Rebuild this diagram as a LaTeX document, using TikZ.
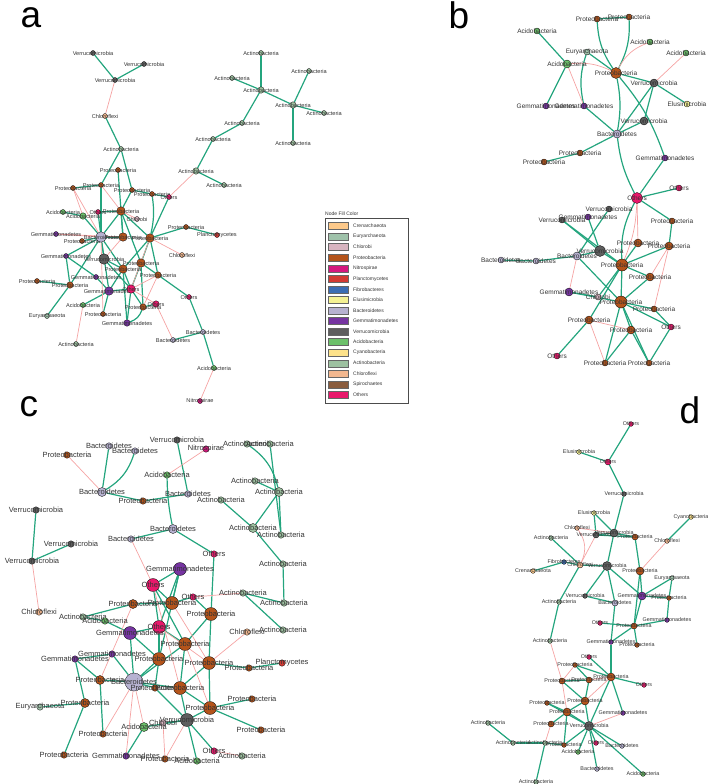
\documentclass[tikz,border=0pt]{standalone}
\usepackage{fontspec}
\setmainfont{Liberation Sans}
\usepackage{xcolor}
\usetikzlibrary{backgrounds}

\definecolor{cCren}{HTML}{FDC98A}
\definecolor{cEury}{HTML}{9FC2AA}
\definecolor{cChlb}{HTML}{D8B4C0}
\definecolor{cProt}{HTML}{B4541B}
\definecolor{cNitr}{HTML}{D5187E}
\definecolor{cPlan}{HTML}{D23A33}
\definecolor{cFibr}{HTML}{3B6DB4}
\definecolor{cElus}{HTML}{F4F194}
\definecolor{cBact}{HTML}{B7B2D1}
\definecolor{cGemm}{HTML}{7634A1}
\definecolor{cVerr}{HTML}{5E5E5E}
\definecolor{cAcid}{HTML}{6CC06A}
\definecolor{cCyan}{HTML}{FDE28A}
\definecolor{cActi}{HTML}{9DC1A0}
\definecolor{cChlf}{HTML}{F2B78F}
\definecolor{cSpir}{HTML}{8A5C3D}
\definecolor{cOth}{HTML}{E8186B}
\definecolor{eGreen}{HTML}{24A57E}
\definecolor{eRed}{HTML}{F5A3A3}

\begin{document}
\begin{tikzpicture}[
    x=1pt, y=-1pt,
    nd/.style={circle, draw=black, line width=0.3pt, inner sep=0pt, minimum size=5pt},
    med/.style={minimum size=7pt},
    big/.style={minimum size=9pt},
    huge/.style={minimum size=11pt},
    cren/.style={nd, fill=cCren, label=center:Crenarchaeota},
    eury/.style={nd, fill=cEury, label=center:Euryarchaeota},
    chlb/.style={nd, fill=cChlb, label=center:Chlorobi},
    prot/.style={nd, fill=cProt, label=center:Proteobacteria},
    nitr/.style={nd, fill=cNitr, label=center:Nitrospirae},
    plan/.style={nd, fill=cPlan, label=center:Planctomycetes},
    fibr/.style={nd, fill=cFibr, label=center:Fibrobacteres},
    elus/.style={nd, fill=cElus, label=center:Elusimicrobia},
    bact/.style={nd, fill=cBact, label=center:Bacteroidetes},
    gemm/.style={nd, fill=cGemm, label=center:Gemmatimonadetes},
    verr/.style={nd, fill=cVerr, label=center:Verrucomicrobia},
    acid/.style={nd, fill=cAcid, label=center:Acidobacteria},
    cyan/.style={nd, fill=cCyan, label=center:Cyanobacteria},
    acti/.style={nd, fill=cActi, label=center:Actinobacteria},
    chlf/.style={nd, fill=cChlf, label=center:Chloroflexi},
    oth/.style={nd, fill=cOth, label=center:Others},
    ge/.style={draw=eGreen, line width=1.2pt},
    re/.style={draw=eRed, line width=0.7pt},
    panellab/.style={font=\fontsize{37}{40}\selectfont, inner sep=0pt},
    swatch/.style={rectangle, draw=black!60, line width=0.3pt, minimum width=20pt, minimum height=7pt, inner sep=0pt},
    legtext/.style={anchor=west, font=\fontsize{5}{6}\selectfont, inner sep=0pt, text=black!80},
]
\useasboundingbox (0,0) rectangle (708,784);

% ===== panel letters =====
\node[panellab] (labA) at (31,18) {a};
\node[panellab] (labB) at (459,15) {b};
\node[panellab] (labC) at (29,407) {c};
\node[panellab] (labD) at (690,410) {d};

% ===== PANEL A =====
\begin{scope}[every label/.style={font=\fontsize{5.6}{6}\selectfont, text=black!80, inner sep=0pt},
    nd/.append style={minimum size=5pt}, med/.style={minimum size=6.5pt},
    big/.style={minimum size=8.5pt}, huge/.style={minimum size=10.5pt}]
\node[verr] (aV1) at (93,53) {};
\node[verr] (aV2) at (144,64) {};
\node[verr] (aV3) at (115,80) {};
\node[chlf] (aCf1) at (105,116) {};
\node[acti] (aAc1) at (121,149) {};
\node[prot] (aP1) at (118,170) {};
\node[prot] (aP2) at (101,185) {};
\node[prot] (aP3) at (73,188) {};
\node[prot] (aP4) at (132,190) {};
\node[prot] (aP5) at (152,194) {};
\node[oth] (aO1) at (169,197) {};
\node[acti] (aAc2) at (261,53) {};
\node[acti] (aAc3) at (232,78) {};
\node[acti, med] (aAc4) at (261,90) {};
\node[acti] (aAc5) at (309,71) {};
\node[acti, med] (aAc6) at (293,105) {};
\node[acti] (aAc7) at (324,113) {};
\node[acti] (aAc8) at (293,143) {};
\node[acti] (aAc9) at (242,123) {};
\node[acti] (aAc10) at (213,139) {};
\node[acti, med] (aAc11) at (196,171) {};
\node[acti] (aAc12) at (224,185) {};
\node[acid] (aAd1) at (63,212) {};
\node[acid, med] (aAd2) at (83,216) {};
\node[oth] (aO2) at (98,212) {};
\node[prot, big] (aP6) at (121,211) {};
\node[chlb] (aCb1) at (137,219) {};
\node[gemm] (aG1) at (56,234) {};
\node[prot] (aP7) at (82,241) {};
\node[bact, huge] (aB1) at (101,237) {};
\node[prot, big] (aP8) at (123,237) {};
\node[prot, big] (aP9) at (150,238) {};
\node[prot] (aP10) at (186,227) {};
\node[plan] (aPl1) at (217,235) {};
\node[chlf] (aCf2) at (182,255) {};
\node[gemm] (aG2) at (66,256) {};
\node[verr, huge] (aV4) at (104,259) {};
\node[prot, big] (aP11) at (141,263) {};
\node[prot, big] (aP12) at (123,269) {};
\node[prot, med] (aP13) at (158,275) {};
\node[gemm] (aG3) at (96,277) {};
\node[prot] (aP14) at (37,281) {};
\node[prot, med] (aP15) at (70,285) {};
\node[gemm, big] (aG4) at (109,291) {};
\node[oth, big] (aO3) at (131,289) {};
\node[oth] (aO4) at (189,297) {};
\node[oth, med] (aO5) at (156,304) {};
\node[prot, med] (aP16) at (143,307) {};
\node[acid] (aAd3) at (83,305) {};
\node[eury] (aEu1) at (47,316) {};
\node[prot] (aP17) at (103,314) {};
\node[gemm, med] (aG5) at (127,323) {};
\node[bact] (aB2) at (203,332) {};
\node[bact] (aB3) at (173,340) {};
\node[acti] (aAc13) at (76,344) {};
\node[acid] (aAd4) at (214,368) {};
\node[nitr] (aNi1) at (200,401) {};
\end{scope}

\begin{scope}[on background layer]
\foreach \s/\t in {aV1/aV3, aV2/aV3, aCf1/aAc1, aAc1/aP2, aAc1/aP4, aAc2/aAc4, aAc3/aAc4,
    aAc4/aAc6, aAc5/aAc6, aAc6/aAc7, aAc6/aAc8, aAc4/aAc9, aAc9/aAc10, aAc10/aAc11,
    aAc11/aAc12, aP3/aP2, aP4/aP5, aP5/aO1, aP1/aP8, aP2/aB1, aP4/aP6, aB1/aAd2,
    aB1/aO2, aB1/aP6, aB1/aP7, aB1/aG2, aB1/aV4, aB1/aP8, aB1/aG4, aB1/aP12, aB1/aP15,
    aO2/aP6, aP6/aP8, aP6/aP11, aP6/aP9, aP9/aP10, aP10/aPl1, aP9/aP13, aP9/aP11,
    aP9/aP12, aP13/aO4, aP13/aP11, aO4/aB2, aB2/aB3, aB2/aAd4, aO5/aP16, aG5/aO3,
    aG5/aP12, aG2/aP15, aG2/aG3, aG3/aG4, aP14/aP15, aP15/aEu1, aAd3/aG4, aP17/aG4,
    aG4/aO3, aG4/aP12, aO3/aP12, aO3/aP11, aO3/aP16, aV4/aP12, aV4/aO3, aP16/aP11,
    aAd1/aAd2, aO1/aP9}
    \draw[ge] (\s) -- (\t);
\draw[ge] (aP5) to[bend left=10] (aP9);
\draw[ge] (aG5) to[bend right=25] (aP16);
\foreach \s/\t in {aV3/aCf1, aAc11/aO1, aP3/aB1, aP3/aAd2, aB1/aG1, aP6/aCb1, aP9/aCf2,
    aP9/aO3, aP13/aO3, aP13/aP16, aAd4/aNi1, aB3/aO5, aO5/aO3, aAd3/aAc13, aP17/aB1,
    aV4/aP8, aG1/aP8, aP2/aP6}
    \draw[re] (\s) -- (\t);
\end{scope}

% ===== PANEL B =====
\begin{scope}[every label/.style={font=\fontsize{6.5}{7}\selectfont, text=black!80, inner sep=0pt},
    nd/.append style={minimum size=6pt}, med/.style={minimum size=8pt},
    big/.style={minimum size=11pt}, huge/.style={minimum size=12pt}]
\node[prot] (bP1) at (597,19) {};
\node[prot] (bP2) at (629,17) {};
\node[acid] (bAd1) at (537,31) {};
\node[acid] (bAd2) at (650,42) {};
\node[acid] (bAd3) at (686,53) {};
\node[eury] (bEu1) at (587,52) {};
\node[acid, med] (bAd4) at (567,64) {};
\node[prot, big] (bP3) at (616,73) {};
\node[verr, med] (bV1) at (654,83) {};
\node[elus] (bEl1) at (687,104) {};
\node[gemm] (bG1) at (546,106) {};
\node[gemm] (bG2) at (584,106) {};
\node[verr, med] (bV2) at (644,121) {};
\node[bact, med] (bB1) at (617,134) {};
\node[prot] (bP4) at (580,153) {};
\node[prot] (bP5) at (544,162) {};
\node[gemm] (bG3) at (665,158) {};
\node[oth] (bO1) at (679,188) {};
\node[oth, big] (bO2) at (637,198) {};
\node[verr] (bV3) at (609,209) {};
\node[gemm] (bG4) at (588,217) {};
\node[verr] (bV4) at (562,220) {};
\node[prot] (bP6) at (672,221) {};
\node[prot, med] (bP7) at (638,243) {};
\node[prot, med] (bP8) at (669,246) {};
\node[verr, big] (bV5) at (600,251) {};
\node[bact, med] (bB2) at (577,256) {};
\node[bact] (bB3) at (501,260) {};
\node[bact] (bB4) at (536,261) {};
\node[prot, huge] (bP9) at (622,265) {};
\node[prot, med] (bP10) at (650,277) {};
\node[gemm, med] (bG5) at (569,292) {};
\node[chlb] (bCb1) at (598,297) {};
\node[prot, huge] (bP11) at (621,302) {};
\node[prot] (bP12) at (654,309) {};
\node[prot, med] (bP13) at (589,320) {};
\node[oth] (bO3) at (671,327) {};
\node[prot, med] (bP14) at (631,330) {};
\node[oth] (bO4) at (557,356) {};
\node[prot] (bP15) at (605,363) {};
\node[prot] (bP16) at (649,363) {};
\end{scope}

\begin{scope}[on background layer]
\foreach \s/\t in {bP1/bP2, bAd1/bAd4, bEu1/bP3, bAd4/bG1, bP3/bV1, bV1/bEl1,
    bV1/bV2, bV1/bB1, bV2/bB1, bG2/bB1, bB1/bP4, bP4/bP5, bG3/bO2, bO1/bO2,
    bO2/bP6, bV3/bB2, bG4/bV5, bV4/bP9, bV4/bV5, bP6/bP8, bP8/bP9, bP7/bP9, bV5/bP9,
    bV5/bB2, bB2/bB4, bB4/bB3, bB2/bP11, bP9/bP10, bP10/bP11, bG5/bCb1, bG5/bP11,
    bP9/bP11, bP11/bP12, bP11/bP14, bP11/bO3, bP11/bP15, bP11/bP16, bP13/bO4,
    bP12/bO3, bO3/bP16, bP14/bP15, bP14/bP16, bP9/bCb1, bP9/bP13}
    \draw[ge] (\s) -- (\t);
\draw[ge] (bP1) to[bend right=15] (bP3);
\draw[ge] (bP2) to[bend left=15] (bP3);
\draw[ge] (bEu1) to[bend right=15] (bG2);
\draw[ge] (bP3) to[bend left=10] (bB1);
\draw[ge] (bP3) to[bend left=10] (bG3);
\draw[ge] (bB1) to[bend right=10] (bO2);
\draw[ge] (bO2) to[bend right=15] (bP9);
\foreach \s/\t in {bAd3/bV1, bAd4/bG2, bO2/bP7, bB2/bG5, bP8/bP10, bP8/bP12,
    bP13/bP15, bP13/bP14}
    \draw[re] (\s) -- (\t);
\draw[re] (bAd2) to[bend right=20] (bP3);
\draw[re] (bAd4) to[bend left=15] (bP3);
\draw[re] (bO2) to[bend left=10] (bP9);
\end{scope}

% ===== PANEL C =====
\begin{scope}[every label/.style={font=\fontsize{7.5}{8}\selectfont, text=black!80, inner sep=0pt},
    nd/.append style={minimum size=6.5pt}, med/.style={minimum size=9pt},
    big/.style={minimum size=13pt}, huge/.style={minimum size=18pt}]
\node[verr] (cV1) at (177,440) {};
\node[bact] (cB1) at (109,446) {};
\node[bact] (cB2) at (135,451) {};
\node[prot] (cP1) at (67,455) {};
\node[nitr] (cN1) at (206,449) {};
\node[acti] (cAc1) at (247,444) {};
\node[acti] (cAc2) at (270,444) {};
\node[acid] (cAd1) at (167,475) {};
\node[acti] (cAc3) at (255,481) {};
\node[acti, med] (cAc4) at (279,492) {};
\node[bact, med] (cB3) at (102,492) {};
\node[bact] (cB4) at (188,494) {};
\node[prot] (cP2) at (143,501) {};
\node[acti] (cAc5) at (221,500) {};
\node[verr] (cV2) at (36,510) {};
\node[bact, med] (cB5) at (173,529) {};
\node[acti, med] (cAc6) at (253,528) {};
\node[acti] (cAc7) at (281,535) {};
\node[bact] (cB6) at (131,539) {};
\node[verr] (cV3) at (71,544) {};
\node[verr] (cV4) at (32,561) {};
\node[oth] (cO1) at (214,554) {};
\node[acti] (cAc8) at (283,564) {};
\node[gemm, big] (cG1) at (180,569) {};
\node[oth, big] (cO2) at (153,585) {};
\node[oth] (cO3) at (193,597) {};
\node[acti] (cAc9) at (243,593) {};
\node[acti] (cAc10) at (284,603) {};
\node[prot, med] (cP3) at (133,604) {};
\node[prot, big] (cP4) at (172,603) {};
\node[prot, big] (cP5) at (211,614) {};
\node[chlf] (cCf1) at (39,612) {};
\node[acti] (cAc11) at (83,617) {};
\node[acid] (cAd2) at (105,621) {};
\node[oth, big] (cO4) at (159,627) {};
\node[gemm, big] (cG2) at (130,633) {};
\node[chlf] (cCf2) at (247,632) {};
\node[acti] (cAc12) at (283,630) {};
\node[prot, big] (cP6) at (185,644) {};
\node[gemm] (cG3) at (112,654) {};
\node[gemm] (cG4) at (75,659) {};
\node[prot, big] (cP7) at (159,659) {};
\node[prot, big] (cP8) at (209,663) {};
\node[plan] (cPl1) at (282,663) {};
\node[prot] (cP9) at (249,668) {};
\node[prot, med] (cP10) at (100,680) {};
\node[bact, huge] (cB7) at (134,682) {};
\node[prot] (cP11) at (155,688) {};
\node[prot, big] (cP12) at (180,688) {};
\node[prot] (cP13) at (252,699) {};
\node[eury] (cEu1) at (40,707) {};
\node[prot, med] (cP14) at (85,703) {};
\node[prot, big] (cP15) at (210,708) {};
\node[verr, big] (cV5) at (187,720) {};
\node[chlb] (cCb1) at (163,723) {};
\node[acid, med] (cAd3) at (144,727) {};
\node[prot] (cP16) at (261,730) {};
\node[prot] (cP17) at (103,734) {};
\node[prot] (cP18) at (64,755) {};
\node[gemm] (cG5) at (126,756) {};
\node[prot] (cP19) at (165,759) {};
\node[acid] (cAd4) at (197,761) {};
\node[oth] (cO5) at (214,751) {};
\node[acti] (cAc13) at (242,756) {};
\end{scope}

\begin{scope}[on background layer]
\foreach \s/\t in {cB1/cB3, cB3/cP2, cP2/cB4, cV1/cB4, cB6/cB5, cB5/cO1,
    cO1/cP5, cAc2/cAc7, cAc3/cAc4, cAc4/cAc6, cAc4/cAc7, cAc5/cAc6, cAc6/cAc8,
    cAc8/cAc10, cAc9/cAc10, cAc9/cAc12, cV2/cV4, cV3/cV4, cAc11/cP3, cAc11/cAd2,
    cAd2/cG2, cG1/cO2, cG1/cP4, cG1/cP7, cG1/cO4, cO2/cP4, cO2/cP6, cO2/cO4, cP3/cP4,
    cP4/cO3, cO3/cP5, cP5/cP8, cP5/cP6, cO4/cG2, cO4/cP6, cO4/cP7, cG2/cP7, cG2/cB7,
    cP8/cP9, cP9/cPl1, cP8/cP12, cP8/cP15, cG3/cG4, cG4/cP14, cG4/cP10, cP14/cEu1,
    cP14/cP18, cP10/cP17, cP10/cB7, cG3/cB7, cB7/cP7, cB7/cP6, cB7/cP12, cB7/cP11,
    cP12/cP15, cP12/cV5, cP15/cP13, cP15/cP16, cP15/cV5, cV5/cAd3, cV5/cO5, cV5/cAd4,
    cV5/cCb1, cP7/cP11, cP6/cP12, cP11/cV5, cAd3/cG5}
    \draw[ge] (\s) -- (\t);
\draw[ge] (cB2) to[bend left=20] (cB3);
\draw[ge] (cAc1) to[bend left=20] (cAc4);
\draw[ge] (cAd1) to[bend right=5] (cB5);
\foreach \s/\t in {cP1/cB3, cAd1/cN1, cB6/cO2, cV4/cCf1, cO3/cAc9, cCf2/cP8,
    cO5/cAc13, cV5/cP19, cB7/cAd3, cB7/cP17, cO4/cP8, cP6/cP15, cP4/cP8, cB7/cG5,
    cCb1/cP19, cP3/cP10, cO2/cP12}
    \draw[re] (\s) -- (\t);
\end{scope}

% ===== PANEL D =====
\begin{scope}[every label/.style={font=\fontsize{5.4}{6}\selectfont, text=black!80, inner sep=0pt},
    nd/.append style={minimum size=4.7pt}, med/.style={minimum size=6pt},
    big/.style={minimum size=8pt}, huge/.style={minimum size=9pt}]
\node[oth] (dO1) at (631,424) {};
\node[elus] (dEl1) at (579,452) {};
\node[oth, med] (dO2) at (608,462) {};
\node[verr] (dV1) at (624,494) {};
\node[elus] (dEl2) at (594,513) {};
\node[cyan] (dCy1) at (691,517) {};
\node[chlf] (dCf1) at (577,528) {};
\node[verr, med] (dV2) at (596,535) {};
\node[verr, big] (dV3) at (614,533) {};
\node[prot, med] (dP1) at (635,537) {};
\node[acti] (dAc1) at (551,538) {};
\node[chlf] (dCf2) at (667,541) {};
\node[fibr] (dFb1) at (564,562) {};
\node[chlf, med] (dCf3) at (580,565) {};
\node[cren] (dCr1) at (533,571) {};
\node[verr, huge] (dV4) at (607,566) {};
\node[prot, big] (dP2) at (640,571) {};
\node[eury] (dEu1) at (672,578) {};
\node[gemm, big] (dG1) at (642,596) {};
\node[prot] (dP3) at (669,598) {};
\node[verr] (dV5) at (585,596) {};
\node[acti] (dAc2) at (559,602) {};
\node[bact, med] (dB1) at (615,603) {};
\node[gemm] (dG2) at (667,620) {};
\node[oth] (dO3) at (600,623) {};
\node[prot, med] (dP4) at (634,626) {};
\node[gemm] (dG3) at (611,642) {};
\node[prot] (dP5) at (637,645) {};
\node[acti] (dAc3) at (550,641) {};
\node[oth] (dO4) at (589,657) {};
\node[prot] (dP6) at (575,665) {};
\node[prot, big] (dP7) at (611,677) {};
\node[prot, med] (dP8) at (562,681) {};
\node[prot, med] (dP9) at (589,680) {};
\node[oth] (dO5) at (644,685) {};
\node[prot, big] (dP10) at (585,701) {};
\node[prot] (dP11) at (547,703) {};
\node[prot, big] (dP12) at (567,712) {};
\node[gemm] (dG4) at (623,713) {};
\node[acti] (dAc4) at (488,723) {};
\node[prot, med] (dP13) at (551,724) {};
\node[verr, huge] (dV6) at (589,726) {};
\node[oth] (dO6) at (596,743) {};
\node[bact] (dB2) at (622,746) {};
\node[acti] (dAc5) at (513,743) {};
\node[acti] (dAc6) at (545,743) {};
\node[prot] (dP14) at (564,745) {};
\node[acid] (dAd1) at (578,752) {};
\node[bact] (dB3) at (597,769) {};
\node[acid] (dAd2) at (643,774) {};
\node[acti] (dAc7) at (536,782) {};
\end{scope}

\begin{scope}[on background layer]
\foreach \s/\t in {dO1/dO2, dEl1/dO2, dO2/dV1, dV1/dV3, dEl2/dV2, dEl2/dV3, dCy1/dCf2,
    dAc1/dCf3, dV2/dV3, dV3/dP1, dV2/dP1, dV3/dV4, dP1/dP2, dCr1/dFb1, dFb1/dCf3,
    dCf3/dV4, dCf3/dAc2, dAc2/dAc3, dV4/dV5, dV4/dG1, dV4/dB1, dP2/dG1, dP2/dP4,
    dEu1/dP3, dEu1/dG1, dG1/dP3, dP3/dG2, dV5/dB1, dG1/dP4, dG2/dP4, dO3/dP4,
    dB1/dG3, dG3/dP4, dG3/dP7, dP4/dP5, dO4/dP7, dP6/dP7, dP7/dO5, dP7/dG4, dP8/dP9,
    dP8/dP10, dP10/dV6, dP10/dP12, dP11/dP12, dP11/dV6, dP12/dP13, dP12/dV6,
    dP12/dP14, dV6/dO6, dV6/dB2, dV6/dB3, dV6/dAd2, dV6/dAd1, dV6/dP14, dAc4/dAc5,
    dAc5/dAc6, dAc6/dAc7, dAc6/dP14, dP9/dP10, dP6/dP9, dV6/dP7}
    \draw[ge] (\s) -- (\t);
\foreach \s/\t in {dCf2/dP2, dCf1/dV3, dCf3/dV2, dAc3/dP8, dP6/dP8, dP7/dP9,
    dP7/dP10, dG4/dV6, dP13/dAc6, dP8/dP12}
    \draw[re] (\s) -- (\t);
\draw[re] (dCf1) to[bend left=30] (dCf3);
\end{scope}

% ===== LEGEND =====
\node[draw=black!70, line width=0.4pt, minimum width=83pt, minimum height=185pt,
    anchor=north west, inner sep=0pt] (legbox) at (325,218) {};
\node[anchor=south west, font=\fontsize{5}{6}\selectfont, inner sep=0pt, text=black!80]
    (legtitle) at (325,216) {Node Fill Color};
\foreach \nm/\col [count=\i from 0] in {Crenarchaeota/cCren, Euryarchaeota/cEury,
    Chlorobi/cChlb, Proteobacteria/cProt, Nitrospirae/cNitr, Planctomycetes/cPlan,
    Fibrobacteres/cFibr, Elusimicrobia/cElus, Bacteroidetes/cBact,
    Gemmatimonadetes/cGemm, Verrucomicrobia/cVerr, Acidobacteria/cAcid,
    Cyanobacteria/cCyan, Actinobacteria/cActi, Chloroflexi/cChlf,
    Spirochaetes/cSpir, Others/cOth}{
    \node[swatch, fill=\col] (sw\i) at (338,{226+10.55*\i}) {};
    \node[legtext] (lt\i) at (353,{226+10.55*\i}) {\nm};
}

\end{tikzpicture}
\end{document}
